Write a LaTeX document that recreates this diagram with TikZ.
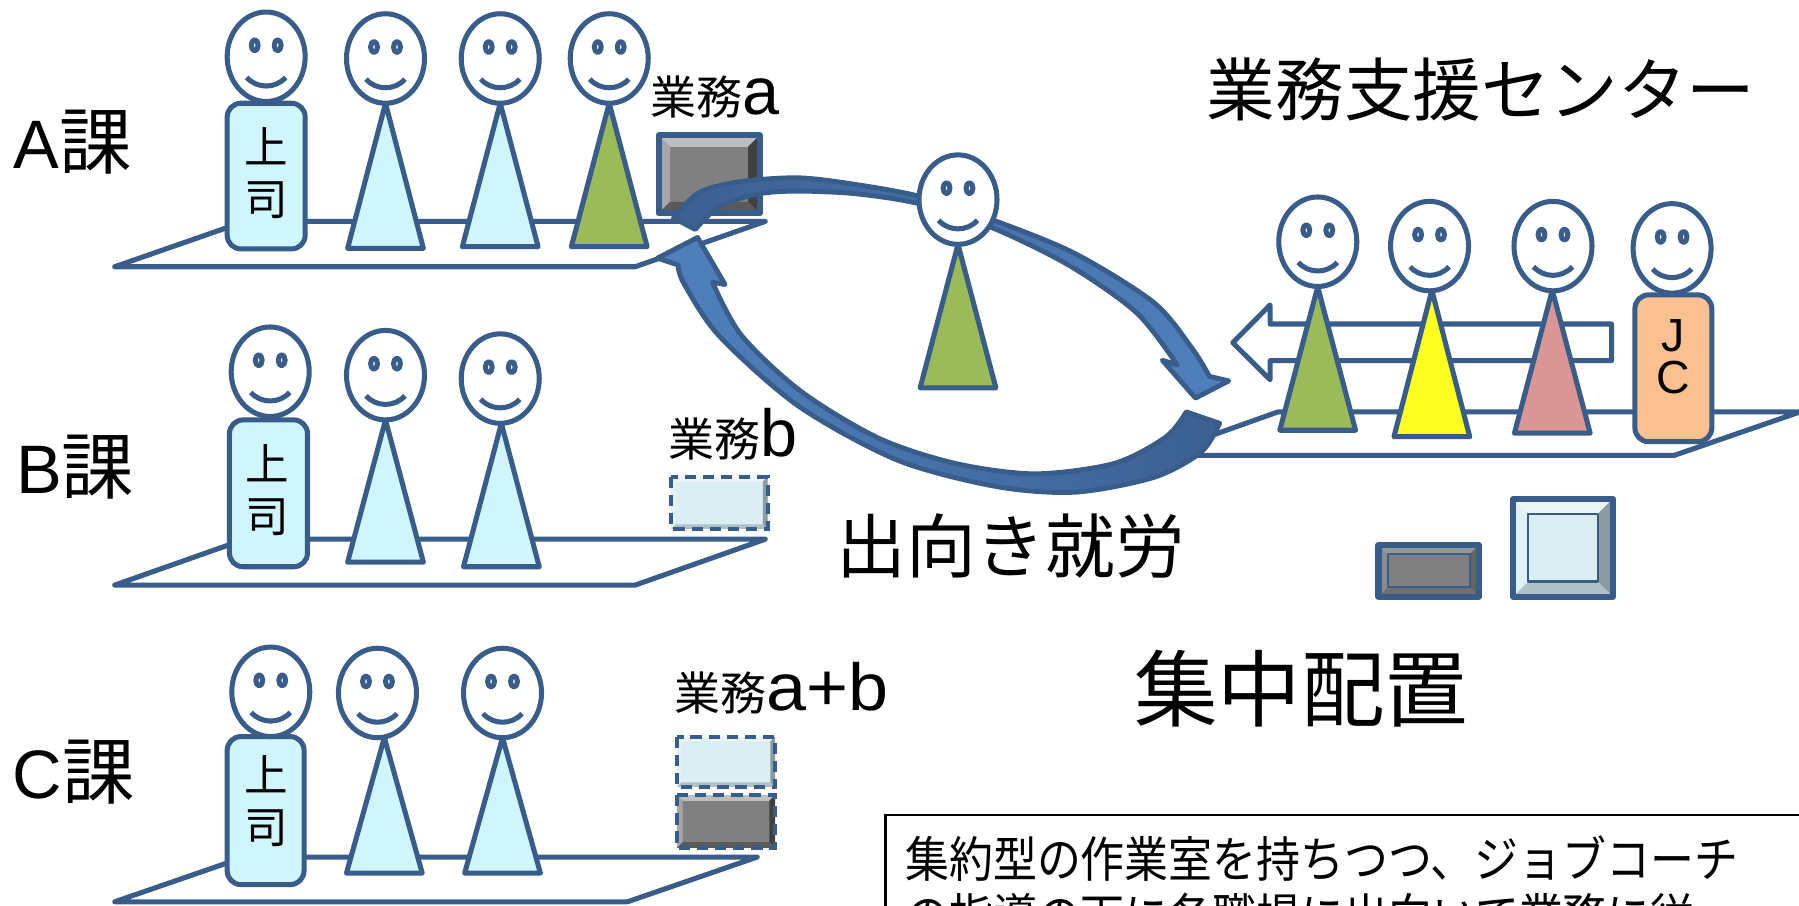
\documentclass[tikz,border=0pt]{standalone}
\usepackage{fontspec}
\setmainfont{Liberation Sans}
\newfontfamily\jp{Noto Sans CJK JP}
\usepackage{xcolor}
\usepackage{tikz}

\definecolor{figline}{RGB}{56,93,138}
\definecolor{bossfill}{RGB}{208,246,252}
\definecolor{leafgreen}{RGB}{155,187,89}
\definecolor{lemon}{RGB}{255,255,32}
\definecolor{rose}{RGB}{217,150,148}
\definecolor{apricot}{RGB}{250,192,144}
\definecolor{arrlt}{RGB}{79,129,189}
\definecolor{arrdk}{RGB}{60,96,147}
\definecolor{dkface}{RGB}{128,128,128}
\definecolor{dktop}{RGB}{190,190,190}
\definecolor{dkleft}{RGB}{166,166,166}
\definecolor{dkright}{RGB}{64,64,64}
\definecolor{dkbot}{RGB}{90,90,90}
\definecolor{ltface}{RGB}{218,238,243}
\definecolor{lttop}{RGB}{236,246,249}
\definecolor{ltleft}{RGB}{226,241,246}
\definecolor{ltright}{RGB}{140,155,162}
\definecolor{ltbot}{RGB}{175,192,198}
\definecolor{dmface}{RGB}{128,128,128}
\definecolor{dmtop}{RGB}{152,152,152}
\definecolor{dmleft}{RGB}{140,140,140}
\definecolor{dmright}{RGB}{100,100,100}
\definecolor{dmbot}{RGB}{112,112,112}

\tikzset{
  fig/.style={draw=figline,line width=1.25pt,line join=round},
  ribbon/.style={draw=figline,line width=1.2pt,line join=round},
  lbl/.style={inner sep=0pt,outer sep=0pt},
  dashbox/.style={draw=figline,line width=1pt,dash pattern=on 2.8pt off 1.7pt}
}

% head with eyes and smile, centred at (#1,#2)
\newcommand{\smiley}[2]{%
  \draw[fig,fill=white] (#1,#2) ellipse (34 and 39);
  \draw[fig,fill=white] (#1-10,#2-10) ellipse (3 and 4.8);
  \draw[fig,fill=white] (#1+10,#2-10) ellipse (3 and 4.8);
  \draw[fig] (#1-17,#2+18) .. controls (#1-8,#2+28) and (#1+8,#2+28) .. (#1+17,#2+18);
}
% cone body: apex x, apex y, base y, colour
\newcommand{\cone}[4]{%
  \draw[fig,fill=#4] (#1,#2) -- (#1-33,#3) -- (#1+33,#3) -- cycle;
}
% bevelled tile: corners, bevel width, colour prefix
\newcommand{\bevelbox}[6]{%
  \fill[#6face] (#1,#2) rectangle (#3,#4);
  \fill[#6top] (#1,#2) -- (#3,#2) -- (#3-#5,#2+#5) -- (#1+#5,#2+#5) -- cycle;
  \fill[#6left] (#1,#2) -- (#1+#5,#2+#5) -- (#1+#5,#4-#5) -- (#1,#4) -- cycle;
  \fill[#6right] (#3,#2) -- (#3,#4) -- (#3-#5,#4-#5) -- (#3-#5,#2+#5) -- cycle;
  \fill[#6bot] (#1,#4) -- (#3,#4) -- (#3-#5,#4-#5) -- (#1+#5,#4-#5) -- cycle;
}

\begin{document}
\begin{tikzpicture}[x=0.01cm,y=-0.01cm]
  \useasboundingbox (0,0) rectangle (1568,789);
  \clip (0,0) rectangle (1568,789);
  \fill[white] (0,0) rectangle (1568,789);

  % section A
  \draw[fig,fill=white] (100,232.5) -- (553.6,232.5) -- (667,193) -- (213.5,193) -- cycle;
  \draw[fig,fill=bossfill,rounded corners=3.4pt] (198,90) rectangle (266,217);
  \smiley{232}{49.5}
  \cone{336}{90}{216.5}{bossfill}
  \smiley{336}{51}
  \cone{436}{90}{215}{bossfill}
  \smiley{436}{51}
  \cone{531}{90}{215}{leafgreen}
  \smiley{531}{51}
  \node[lbl,align=center,font=\jp\fontsize{10.8pt}{12.8pt}\selectfont] (bossA) at (232,151) {上\\司};
  \node[lbl,anchor=base west] (kaA) at (12,147) {\fontsize{17pt}{20pt}\selectfont A{\jp\fontsize{18pt}{20pt}\selectfont 課}};
  \node[lbl,anchor=base west] (jobA) at (567,100) {{\jp\fontsize{11.4pt}{13pt}\selectfont 業務}\fontsize{16.5pt}{18pt}\selectfont a};
  \bevelbox{574}{118}{662}{186}{10}{dk}
  \draw[fig,line width=1.5pt] (574,118) rectangle (662,186);

  % section B
  \draw[fig,fill=white] (100,510) -- (553.6,510) -- (667,470) -- (213.5,470) -- cycle;
  \draw[fig,fill=bossfill,rounded corners=3.4pt] (200,366) rectangle (268,494);
  \smiley{235.5}{324}
  \cone{336}{366}{490}{bossfill}
  \smiley{336}{327}
  \cone{437}{369}{494}{bossfill}
  \smiley{436}{330}
  \node[lbl,align=center,font=\jp\fontsize{10.8pt}{12.8pt}\selectfont] (bossB) at (233,427) {上\\司};
  \node[lbl,anchor=base west] (kaB) at (14,430) {\fontsize{17pt}{20pt}\selectfont B{\jp\fontsize{18pt}{20pt}\selectfont 課}};
  \node[lbl,anchor=base west] (jobB) at (583,398) {{\jp\fontsize{11.4pt}{13pt}\selectfont 業務}\fontsize{16.5pt}{18pt}\selectfont b};
  \bevelbox{585}{415.5}{669}{461}{4}{lt}
  \draw[dashbox] (585,415.5) rectangle (669,461);

  % section C
  \draw[fig,fill=white] (100,786) -- (547,786) -- (660,747) -- (213,747) -- cycle;
  \draw[fig,fill=bossfill,rounded corners=3.4pt] (198,642) rectangle (265,771);
  \smiley{236}{603}
  \cone{335}{643}{761}{bossfill}
  \smiley{329}{604}
  \cone{438}{643}{761}{bossfill}
  \smiley{438}{604}
  \node[lbl,align=center,font=\jp\fontsize{10.8pt}{12.8pt}\selectfont] (bossC) at (232,698) {上\\司};
  \node[lbl,anchor=base west] (kaC) at (11,696) {\fontsize{17pt}{20pt}\selectfont C{\jp\fontsize{18pt}{20pt}\selectfont 課}};
  \node[lbl,anchor=base west] (jobAB) at (588,619) {{\jp\fontsize{11.4pt}{13pt}\selectfont 業務}\fontsize{16.5pt}{18pt}\selectfont\scalebox{1.08}[1]{a+b}};
  \bevelbox{590}{642}{675.5}{686}{4}{lt}
  \draw[dashbox] (590,642) rectangle (675.5,686);
  \bevelbox{590}{693}{675.5}{739}{5}{dk}
  \draw[dashbox] (590,693) rectangle (675.5,739);

  % support centre
  \draw[fig,fill=white] (1007,397) -- (1459,397) -- (1569,359) -- (1114,359) -- cycle;
  \draw[fig,fill=white] (1074.5,298.7) -- (1107,265.8) -- (1107,282.4) -- (1404.6,282.4)
    -- (1404.6,314.4) -- (1107,314.4) -- (1107,331) -- cycle;
  \cone{1148.5}{250}{375}{leafgreen}
  \smiley{1148.6}{210.7}
  \cone{1248}{253}{380.6}{lemon}
  \smiley{1246}{214.5}
  \cone{1353}{253}{377.6}{rose}
  \smiley{1353.6}{214.5}
  \draw[fig,fill=apricot,rounded corners=3.4pt] (1425,257) rectangle (1492,385);
  \smiley{1457.4}{216.5}
  \node[lbl,align=center,font=\fontsize{11.5pt}{10.5pt}\selectfont] (coach) at (1458,311) {J\\C};
  \node[lbl,font=\jp\fontsize{17pt}{20pt}\selectfont] (center) at (1291,78) {業務支援センター};
  \bevelbox{1201.5}{475}{1289}{520}{8}{dm}
  \draw[fig,line width=0.5pt] (1209.5,483) rectangle (1281,512);
  \draw[fig,line width=1.5pt] (1201.5,475) rectangle (1289,520);
  \bevelbox{1319}{435}{1405.6}{520}{13}{lt}
  \draw[fig,line width=0.6pt] (1332,448) rectangle (1392.6,507);
  \draw[fig,line width=1.5pt] (1319,435) rectangle (1405.6,520);

  % round trip of the dispatched worker
  \path[ribbon,left color=arrdk,right color=arrlt]
    plot[smooth] coordinates {(587,190) (609,168) (644,158.5) (696,155) (747,161) (803,171.5)
      (866,192) (937,221) (1006,264) (1040,305) (1054,328)}
    -- (1071,332) -- (1042,347) -- (1013,314)
    -- plot[smooth] coordinates {(1026,318) (991,273) (933,232) (866,199) (803,178) (747,169)
      (696,166.6) (661,169) (627,180) (606,200)} -- cycle;
  \path[ribbon,left color=arrlt,right color=arrdk]
    plot[smooth] coordinates {(1063,369) (1047,394) (1006,416) (937,429) (868,424) (782,401)
      (696,354) (627,293) (596,247) (591,231)}
    -- (573,225) -- (608,207) -- (632,248)
    -- plot[smooth] coordinates {(621,246) (646,292) (698,341) (766,382) (833,404) (902,413)
      (971,404) (1016,381) (1034,359)} -- cycle;
  \cone{835}{213}{338}{leafgreen}
  \smiley{835}{174}

  \node[lbl,font=\jp\fontsize{17.3pt}{20pt}\selectfont] (dispatch) at (881,476) {出向き就労};
  \node[lbl,font=\jp\fontsize{20.7pt}{24pt}\selectfont] (central) at (1134,600) {集中配置};

  % note box, runs off the page
  \draw[black,line width=0.7pt] (772,710.4) rectangle (1600,900);
  \node[lbl,anchor=west] (memo1) at (789,748)
    {\scalebox{0.9}[1]{\jp\fontsize{12.1pt}{14pt}\selectfont 集約型の作業室を持ちつつ、ジョブコーチ}};
  \node[lbl,anchor=west] (memo2) at (789,798)
    {\scalebox{0.9}[1]{\jp\fontsize{12.1pt}{14pt}\selectfont の指導の下に各職場に出向いて業務に従}};
\end{tikzpicture}
\end{document}
